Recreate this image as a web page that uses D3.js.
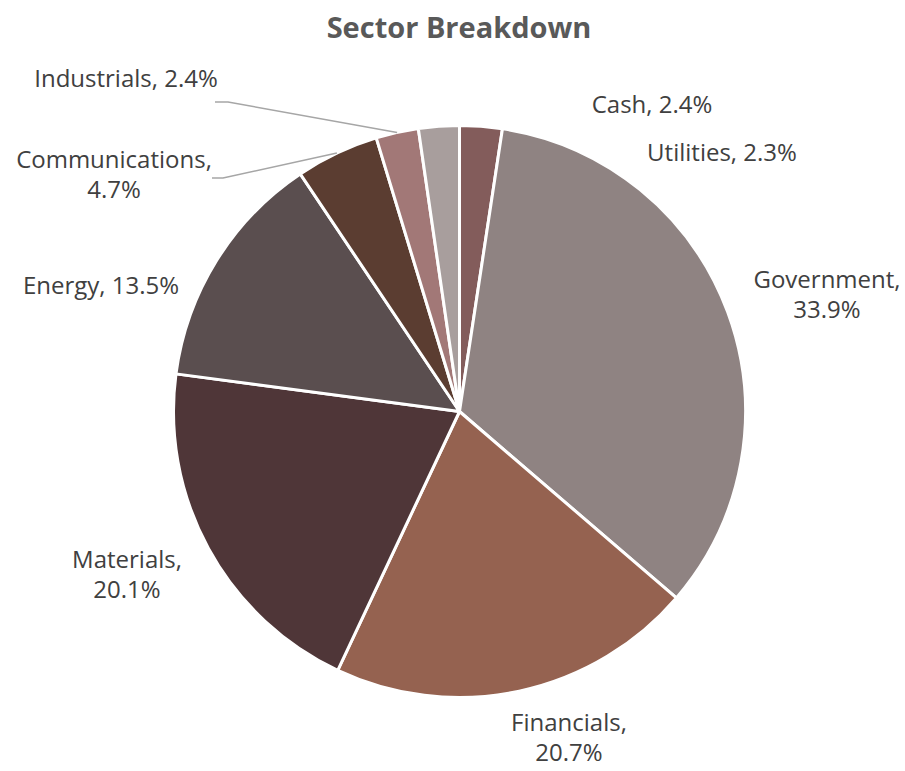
<!DOCTYPE html>
<html>
<head>
<meta charset="utf-8">
<script src="https://cdn.jsdelivr.net/npm/d3@7"></script>
<style>
  html, body { margin: 0; padding: 0; background: #fff; }
  svg { display: block; }
</style>
</head>
<body>
<svg id="chart" width="905" height="771"></svg>
<script>
// ---- data ----
const categories = ["Cash", "Government", "Financials", "Materials", "Energy", "Communications", "Industrials", "Utilities"];
const values = [2.4, 33.9, 20.7, 20.1, 13.5, 4.7, 2.4, 2.3];
const colors = ["#835C5B", "#8F8382", "#956250", "#4F3638", "#5A4E4F", "#5B3D31", "#A27877", "#A89E9D"];
const title = "Sector Breakdown";

// ---- layout (label anchors: text centre x, first baseline y; leader elbow) ----
const labelLayout = [
  { x: 652, y: 113, lines: 1 },
  { x: 827, y: 288, lines: 2 },
  { x: 569, y: 731, lines: 2 },
  { x: 127, y: 568, lines: 2 },
  { x: 101, y: 294, lines: 1 },
  { x: 114, y: 168, lines: 2, leader: [[212, 178], [223, 178]] },
  { x: 126, y: 87, lines: 1, leader: [[215, 102], [228, 102]] },
  { x: 722, y: 161, lines: 1 }
];

const svg = d3.select("#chart");
const cx = 459.5, cy = 411.5, r = 286;

svg.append("text")
  .attr("x", 459).attr("y", 38)
  .attr("text-anchor", "middle")
  .attr("font-family", "'Open Sans', sans-serif")
  .attr("font-weight", "bold")
  .attr("font-size", 29)
  .attr("fill", "#595959")
  .text(title);

const data = categories.map((c, i) => ({ name: c, value: values[i], color: colors[i] }));
const pie = d3.pie().value(d => d.value).sort(null);
const arcs = pie(data);
const arc = d3.arc().innerRadius(0).outerRadius(r);
const edge = d3.arc().innerRadius(r).outerRadius(r);

const g = svg.append("g").attr("transform", `translate(${cx},${cy})`);
g.selectAll("path.slice").data(arcs).join("path")
  .attr("class", "slice")
  .attr("d", arc)
  .attr("fill", d => d.data.color)
  .attr("stroke", "#fff")
  .attr("stroke-width", 3)
  .attr("stroke-linejoin", "round");

// leader lines
arcs.forEach((a, i) => {
  const L = labelLayout[i];
  if (!L.leader) return;
  const c = edge.centroid(a);
  const pts = L.leader.concat([[cx + c[0], cy + c[1]]]);
  svg.append("path")
    .attr("d", d3.line()(pts))
    .attr("fill", "none")
    .attr("stroke", "#A6A6A6")
    .attr("stroke-width", 1.5);
});

// labels (each line its own text element)
arcs.forEach((a, i) => {
  const L = labelLayout[i];
  const pct = d3.format(".1f")(a.data.value) + "%";
  const lines = L.lines === 1 ? [a.data.name + ", " + pct] : [a.data.name + ",", pct];
  lines.forEach((s, k) => {
    svg.append("text")
      .attr("x", L.x).attr("y", L.y + k * 30)
      .attr("text-anchor", "middle")
      .attr("font-family", "'Open Sans', sans-serif")
      .attr("font-size", 24)
      .attr("fill", "#404040")
      .text(s);
  });
});
</script>
</body>
</html>
